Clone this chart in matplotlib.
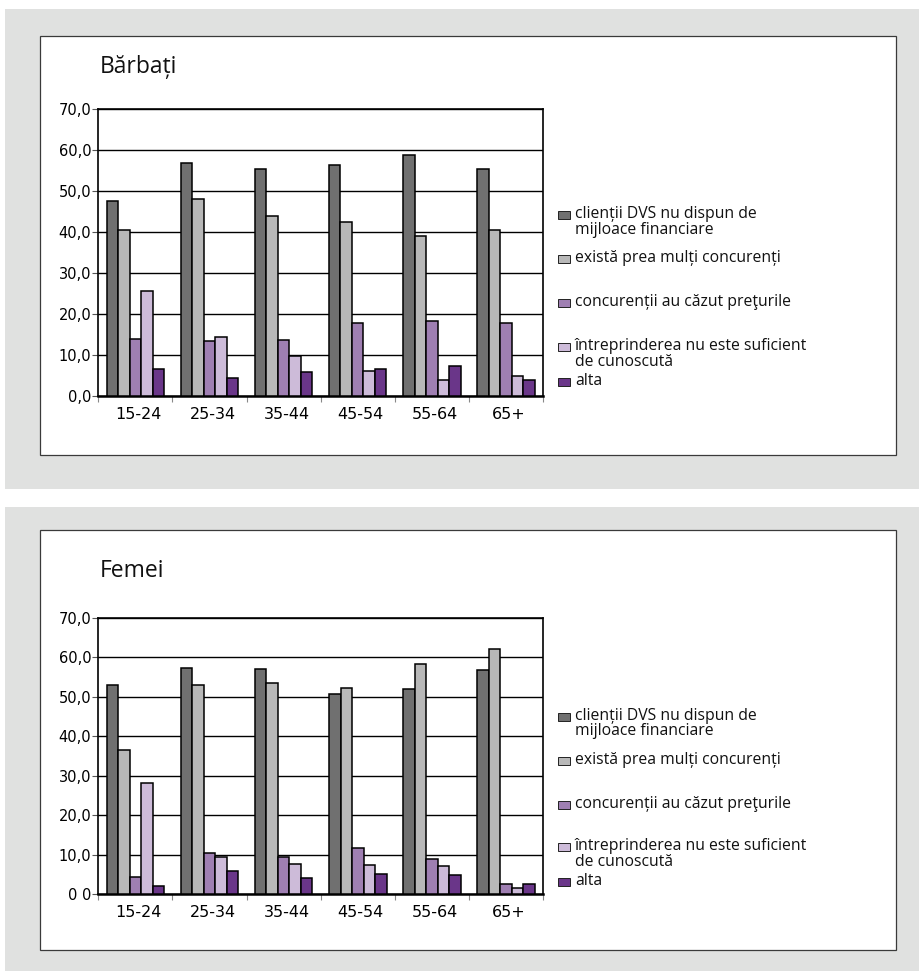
import matplotlib
matplotlib.use("Agg")
import matplotlib.pyplot as plt
from matplotlib.patches import Rectangle
import numpy as np

W, H = 919, 971

categories = ["15-24", "25-34", "35-44", "45-54", "55-64", "65+"]
series_names = [
    "clienții DVS nu dispun de\nmijloace financiare",
    "există prea mulți concurenți",
    "concurenții au căzut preţurile",
    "întreprinderea nu este suficient\nde cunoscută",
    "alta",
]

men_clienti = [47.6, 56.8, 55.2, 56.4, 58.6, 55.2]
men_concurenti = [40.5, 47.9, 43.8, 42.3, 38.9, 40.5]
men_preturi = [13.9, 13.4, 13.6, 17.7, 18.3, 17.9]
men_cunoscuta = [25.7, 14.4, 9.7, 6.2, 3.8, 4.9]
men_alta = [6.7, 4.5, 5.8, 6.7, 7.4, 3.8]

women_clienti = [53.0, 57.3, 57.0, 50.6, 51.9, 56.8]
women_concurenti = [36.5, 53.0, 53.5, 52.1, 58.3, 62.1]
women_preturi = [4.2, 10.4, 9.4, 11.7, 8.9, 2.5]
women_cunoscuta = [28.2, 9.4, 7.7, 7.3, 7.1, 1.4]
women_alta = [2.0, 5.7, 4.0, 5.1, 4.9, 2.5]

yticks = [0, 10, 20, 30, 40, 50, 60, 70]
men_ylabels = ["0,0", "10,0", "20,0", "30,0", "40,0", "50,0", "60,0", "70,0"]
women_ylabels = ["0 0", "10,0", "20,0", "30,0", "40,0", "50,0", "60,0", "70,0"]

colors = ["#707070", "#b8b8b8", "#9f7fb2", "#cdbbd9", "#6a3689"]

TXT = ["Open Sans", "DejaVu Sans"]

fig = plt.figure(figsize=(W / 100, H / 100), dpi=100)
fig.patch.set_facecolor("white")


def px_rect(x0, y0, x1, y1, **kw):
    r = Rectangle((x0 / W, 1 - y1 / H), (x1 - x0) / W, (y1 - y0) / H,
                  transform=fig.transFigure, **kw)
    fig.add_artist(r)
    return r


def draw_panel(dy_panel_top, dy_panel_bot, box, axes_px, title, title_y,
               data, ylabels, legend_y):
    px_rect(5, dy_panel_top, 925, dy_panel_bot, facecolor="#e0e1e0",
            edgecolor="none", zorder=0)
    bx0, by0, bx1, by1 = box
    px_rect(bx0, by0, bx1, by1, facecolor="white", edgecolor="#3a3a3a",
            linewidth=0.9, zorder=1)
    fig.text(100 / W, 1 - title_y / H, title, fontsize=16.5, family=TXT,
             ha="left", va="baseline", color="#111111")

    l, r, t, b = axes_px
    ax = fig.add_axes([l / W, 1 - b / H, (r - l) / W, (b - t) / H])
    ax.set_zorder(2)
    ax.set_facecolor("white")
    x = np.arange(len(categories))
    bw = 0.155
    n = len(data)
    for i, vals in enumerate(data):
        off = (i - (n - 1) / 2) * bw
        ax.bar(x + off, vals, width=bw, color=colors[i], edgecolor="black",
               linewidth=1.1, zorder=3)
    ax.set_xlim(-0.5, len(categories) - 0.5)
    ax.set_ylim(0, 70)
    ax.set_yticks(yticks)
    ax.set_yticklabels(ylabels, fontsize=10.5, family="DejaVu Sans")
    ax.yaxis.grid(True, color="black", linewidth=1.0, zorder=1)
    ax.set_axisbelow(True)
    ax.set_xticks(np.arange(-0.5, len(categories), 1.0))
    ax.set_xticklabels([])
    ax.set_xticks(x + 0.04, minor=True)
    ax.set_xticklabels(categories, minor=True, fontsize=11.5,
                       family="DejaVu Sans")
    ax.tick_params(axis="x", which="major", direction="out", length=4,
                   width=0.8, color="#888888")
    ax.tick_params(axis="x", which="minor", length=0, pad=8)
    ax.tick_params(axis="y", direction="out", length=4, width=0.8, pad=1,
                   color="#555555")
    for s in ["top", "right", "left"]:
        ax.spines[s].set_color("black")
        ax.spines[s].set_linewidth(1.2)
    ax.spines["bottom"].set_linewidth(1.8)
    ax.spines["bottom"].set_color("black")

    for i, name in enumerate(series_names):
        yc = legend_y[i]
        px_rect(558, yc - 4, 570, yc + 4, facecolor=colors[i],
                edgecolor="#222222", linewidth=0.7, zorder=3)
        fig.text(575 / W, 1 - (yc - 9) / H, name, fontsize=11.3, family=TXT,
                 ha="left", va="top", linespacing=0.97, color="#111111",
                 zorder=3)
    return ax


men_data = [men_clienti, men_concurenti, men_preturi, men_cunoscuta, men_alta]
women_data = [women_clienti, women_concurenti, women_preturi, women_cunoscuta,
              women_alta]

draw_panel(9, 489, (40, 36, 896, 455), (98.3, 543, 108.7, 396), "Bărbați", 73,
           men_data, men_ylabels, [215, 259, 303, 347, 382])
draw_panel(507, 975, (40, 530, 896, 950), (98.3, 543.3, 617.5, 894), "Femei",
           577, women_data, women_ylabels, [716.7, 761, 805, 847, 882])

fig.savefig("out.png", dpi=100)
